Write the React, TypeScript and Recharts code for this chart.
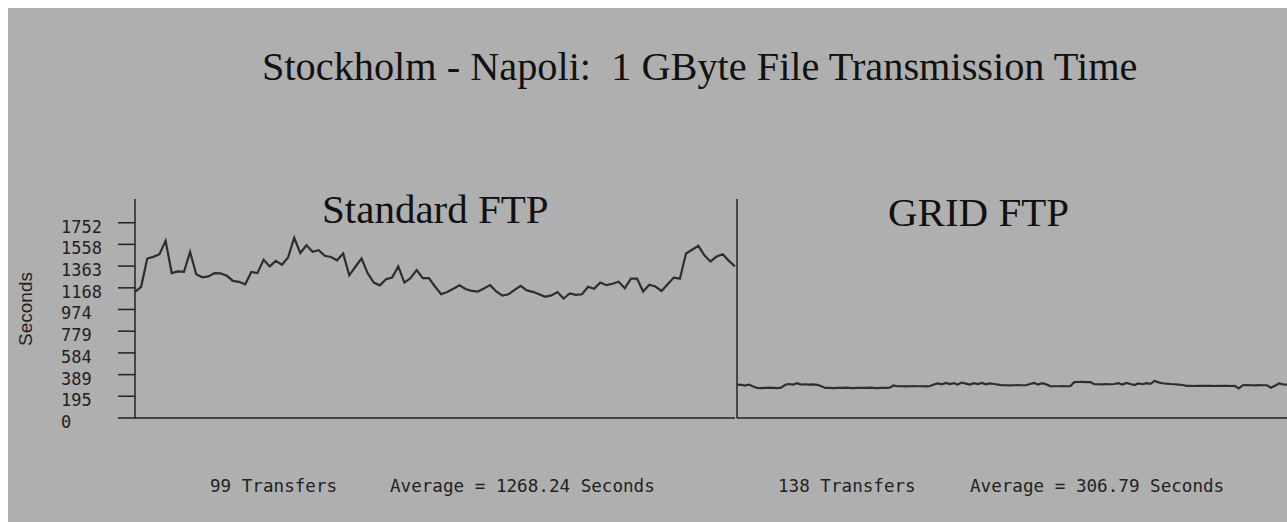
import { LineChart, Line, XAxis, YAxis } from "recharts";

// transmission times (seconds), one value per transfer
const standardFtp = [
  1132, 1177, 1431, 1446, 1470, 1590, 1300, 1315, 1312, 1490,
  1290, 1262, 1270, 1300, 1297, 1276, 1230, 1222, 1200, 1310,
  1300, 1420, 1360, 1410, 1375, 1440, 1617, 1480, 1550, 1491,
  1506, 1455, 1445, 1415, 1476, 1280, 1357, 1431, 1300, 1215,
  1190, 1245, 1260, 1360, 1215, 1255, 1327, 1255, 1255, 1180,
  1110, 1130, 1160, 1190, 1158, 1140, 1135, 1162, 1192, 1135,
  1098, 1110, 1150, 1185, 1145, 1132, 1110, 1087, 1100, 1130,
  1072, 1117, 1105, 1110, 1177, 1160, 1216, 1192, 1205, 1222,
  1165, 1250, 1250, 1135, 1195, 1180, 1140, 1200, 1260, 1250,
  1476, 1510, 1545, 1460, 1405, 1450, 1470, 1410, 1360,
];

const gridFtp = [
  300, 298, 290, 300, 282,
  270, 268, 270, 272, 270, 268, 272,
  298, 305, 300, 312, 300, 303,
  300, 302, 298, 285,
  270, 270, 268, 270, 270, 272, 270, 268, 270, 270, 270, 272, 270, 268, 270, 270, 272,
  292,
  285, 285, 283, 285, 287, 285, 285, 283, 285,
  300, 310, 302, 315, 305, 312, 300, 318, 308, 300, 312, 305, 315, 302, 310, 305, 300,
  294, 294, 292, 294, 296, 294, 294,
  305, 315, 300, 312, 302,
  286, 285, 285, 286, 285, 285,
  322, 323, 324, 322, 323,
  304, 303, 302, 304, 303,
  305, 312, 300, 315, 305, 296, 310, 303, 312, 306,
  333,
  320, 312, 308, 305, 303, 300, 296,
  288, 288, 287, 288, 289, 288, 288, 287, 288, 288, 288, 287, 288,
  265,
  294, 295, 294, 293, 295, 294, 294,
  272, 290, 310, 302, 300,
];

const yTicks = [0, 195, 389, 584, 779, 974, 1168, 1363, 1558, 1752];
const yMax = 1965;

const standardRows = standardFtp.map((v, i) => ({ i, v }));
const gridRows = gridFtp.map((v, i) => ({ i, v }));

const ink = "#222";
const lineInk = "#2e2e2e";
const mono = "'DejaVu Sans Mono', monospace";
const serif = "'Liberation Serif', 'Times New Roman', serif";

const YTick = (props: any) => {
  const { y, payload } = props;
  return (
    <text
      x={61}
      y={y + 4}
      dominantBaseline="central"
      textAnchor="start"
      fontFamily={mono}
      fontSize={17}
      fill={ink}
    >
      {payload.value}
    </text>
  );
};

const abs = (left: number, top: number, extra: any = {}) => ({
  position: "absolute" as const,
  left,
  top,
  whiteSpace: "pre" as const,
  ...extra,
});

export default function App() {
  return (
    <div style={{ position: "relative", width: 1287, height: 522, background: "#fff", overflow: "hidden" }}>
      <style>{"body{margin:0;overflow:hidden}"}</style>
      <div style={{ position: "absolute", left: 8, top: 8, right: 0, bottom: 0, background: "#afafaf" }} />

      <div style={abs(0, 0)}>
        <LineChart width={736} height={438} data={standardRows} margin={{ top: 199, right: 1, bottom: 10, left: 0 }}>
          <XAxis dataKey="i" type="number" domain={[0, 98]} height={10} tick={false} tickLine={false} axisLine={{ stroke: ink, strokeWidth: 1.5 }} />
          <YAxis
            type="number"
            domain={[0, yMax]}
            ticks={yTicks}
            interval={0}
            width={135}
            tickSize={17}
            tick={<YTick />}
            tickLine={{ stroke: ink, strokeWidth: 1.5 }}
            axisLine={{ stroke: ink, strokeWidth: 1.5 }}
          />
          <Line type="linear" dataKey="v" stroke={lineInk} strokeWidth={2.2} dot={false} isAnimationActive={false} />
        </LineChart>
      </div>

      <div style={abs(736, 0)}>
        <LineChart width={551} height={438} data={gridRows} margin={{ top: 199, right: 0, bottom: 10, left: 0 }}>
          <XAxis dataKey="i" type="number" domain={[0, 137]} height={10} tick={false} tickLine={false} axisLine={{ stroke: ink, strokeWidth: 1.5 }} />
          <YAxis type="number" domain={[0, yMax]} width={1} tick={false} tickLine={false} axisLine={{ stroke: ink, strokeWidth: 1.5 }} />
          <Line type="linear" dataKey="v" stroke={lineInk} strokeWidth={2.2} dot={false} isAnimationActive={false} />
        </LineChart>
      </div>

      <div style={abs(262, 47, { fontFamily: serif, fontSize: 40.3, lineHeight: "40px", color: "#111" })}>
        {"Stockholm - Napoli:  1 GByte File Transmission Time"}
      </div>
      <div style={abs(322, 189, { fontFamily: serif, fontSize: 41, lineHeight: "41px", color: "#111" })}>Standard FTP</div>
      <div style={abs(888, 192, { fontFamily: serif, fontSize: 41, lineHeight: "41px", color: "#111" })}>GRID FTP</div>

      <div
        style={abs(25, 309, {
          fontFamily: "'Liberation Sans', Arial, sans-serif",
          fontSize: 19,
          lineHeight: "19px",
          color: ink,
          transform: "translate(-50%, -50%) rotate(-90deg)",
        })}
      >
        Seconds
      </div>

      <div style={abs(210, 477, { fontFamily: mono, fontSize: 17.6, lineHeight: "18px", color: ink })}>99 Transfers</div>
      <div style={abs(390, 477, { fontFamily: mono, fontSize: 17.6, lineHeight: "18px", color: ink })}>Average = 1268.24 Seconds</div>
      <div style={abs(778, 477, { fontFamily: mono, fontSize: 17.6, lineHeight: "18px", color: ink })}>138 Transfers</div>
      <div style={abs(970, 477, { fontFamily: mono, fontSize: 17.6, lineHeight: "18px", color: ink })}>Average = 306.79 Seconds</div>
    </div>
  );
}
